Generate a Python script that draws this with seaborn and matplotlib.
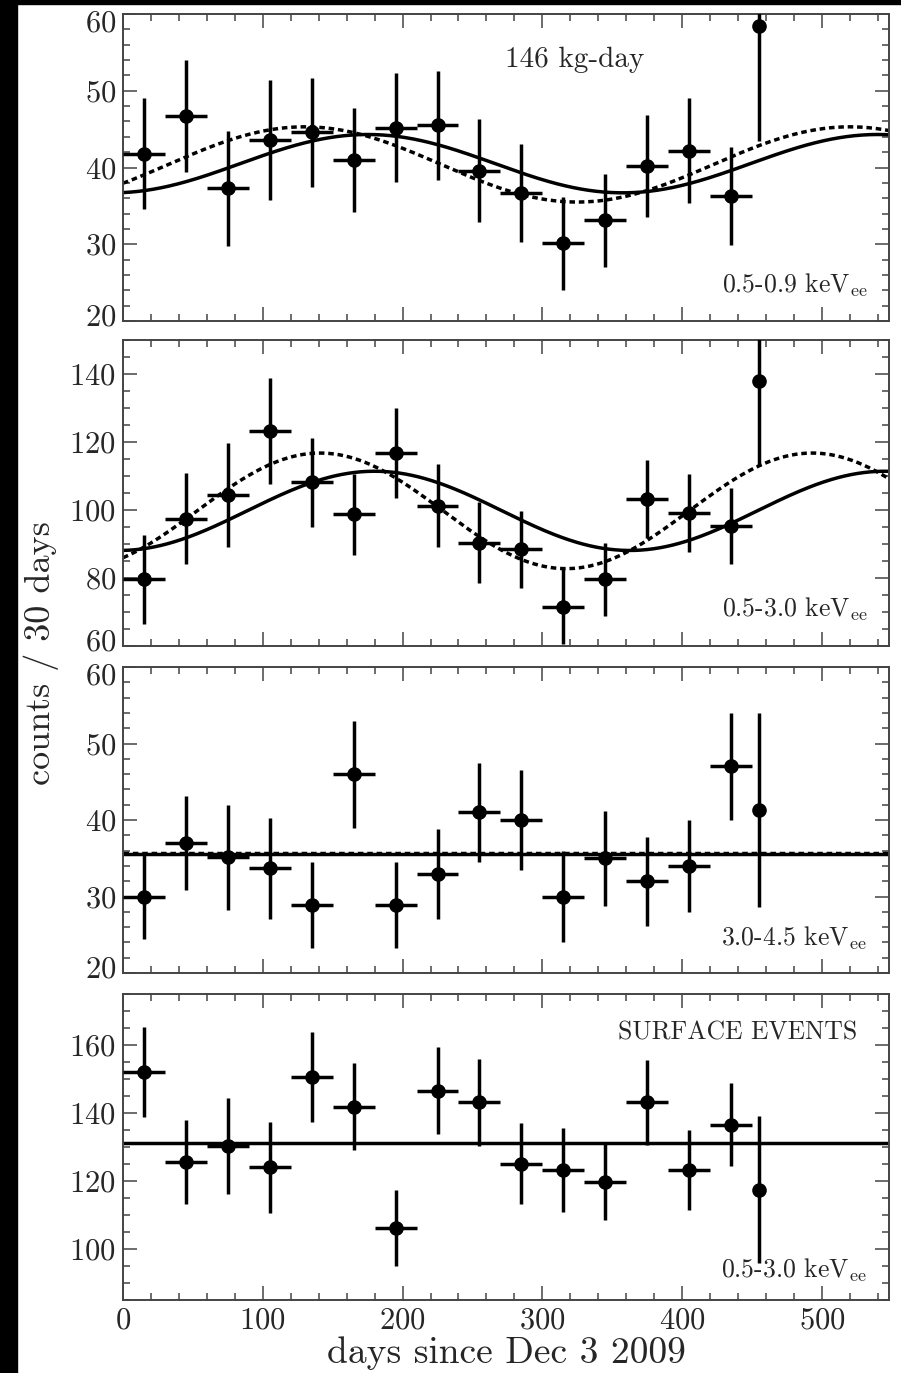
import numpy as np
import pandas as pd
import matplotlib
matplotlib.use("Agg")
import matplotlib.pyplot as plt
from matplotlib.patches import Rectangle
from matplotlib.ticker import MultipleLocator
from matplotlib.transforms import ScaledTranslation
import seaborn as sns

# ---------------- data ----------------
days = [15, 45, 75, 105, 135, 165, 195, 225, 255, 285, 315, 345, 375, 405, 435, 455]
half_bin = [15, 15, 15, 15, 15, 15, 15, 15, 15, 15, 15, 15, 15, 15, 15, 0]

counts_low = [41.8, 46.7, 37.3, 43.6, 44.6, 41.0, 45.2, 45.5, 39.6, 36.7, 30.1, 33.1, 40.2, 42.2, 36.3, 58.4]
err_low = [7.2, 7.3, 7.5, 7.8, 7.1, 6.8, 7.1, 7.1, 6.7, 6.4, 6.0, 6.1, 6.6, 6.8, 6.4, 15.0]

counts_mid = [79.6, 97.5, 104.4, 123.2, 108.1, 98.7, 116.8, 101.3, 90.4, 88.4, 71.6, 79.6, 103.2, 99.2, 95.3, 138.0]
err_mid = [13.1, 13.4, 15.3, 15.5, 13.2, 11.8, 13.2, 12.3, 11.9, 11.4, 11.1, 10.7, 11.4, 11.5, 11.2, 25.2]

counts_high = [30.0, 37.0, 35.1, 33.7, 28.9, 46.0, 28.9, 32.9, 41.0, 40.0, 30.0, 35.0, 32.0, 34.0, 47.0, 41.3]
err_high = [5.5, 6.2, 6.9, 6.6, 5.6, 7.0, 5.6, 5.9, 6.5, 6.5, 6.0, 6.2, 5.8, 6.0, 7.0, 12.7]

counts_surf = [152.0, 125.6, 130.3, 124.0, 150.6, 141.9, 106.2, 146.6, 143.1, 125.1, 123.2, 119.7, 143.1, 123.2, 136.5, 117.5]
err_surf = [13.3, 12.3, 14.1, 13.4, 13.2, 12.7, 11.2, 12.9, 12.7, 11.9, 12.3, 11.3, 12.4, 11.7, 12.2, 21.6]

# fit models: mean, amplitude, peak day, period
solid_low = [40.5, 3.8, 175, 365]
dotted_low = [40.4, 4.9, 130, 390]
solid_mid = [99.75, 11.65, 180, 365]
dotted_mid = [99.75, 17.0, 141, 352]
solid_high = [35.6, 0.0, 180, 365]
dotted_high = [35.75, 0.0, 180, 365]
solid_surf = [131.3, 0.0, 180, 365]

panel_labels = ["0.5-0.9 keV$_{\\rm ee}$", "0.5-3.0 keV$_{\\rm ee}$",
                "3.0-4.5 keV$_{\\rm ee}$", "0.5-3.0 keV$_{\\rm ee}$"]
ylims = [(20, 60), (60, 150), (20, 60), (85, 175)]
yminor = [2, 5, 2, 5]
yticks_list = [[20, 30, 40, 50, 60], [60, 80, 100, 120, 140],
               [20, 30, 40, 50, 60], [100, 120, 140, 160]]
xticks = [0, 100, 200, 300, 400, 500]

# ---------------- style ----------------
sns.set_theme(style="ticks")
plt.rcParams["font.family"] = ["cmr10", "DejaVu Serif"]
plt.rcParams["mathtext.fontset"] = "cm"
plt.rcParams["axes.formatter.use_mathtext"] = True
plt.rcParams["axes.unicode_minus"] = False

W, H = 901, 1373
fig = plt.figure(figsize=(W / 100, H / 100), dpi=100, facecolor="white")

left = 123 / W
width = (889 - 123) / W
tops = [14, 340, 667, 994]
bottoms = [321, 646, 973, 1300]

series = [
    (counts_low, err_low, [solid_low, dotted_low]),
    (counts_mid, err_mid, [solid_mid, dotted_mid]),
    (counts_high, err_high, [solid_high, dotted_high]),
    (counts_surf, err_surf, [solid_surf]),
]

t = np.linspace(0, 548, 600)
spine_col = "#444444"

axes = []
for i, (vals, errs, models) in enumerate(series):
    y0 = 1 - bottoms[i] / H
    h = (bottoms[i] - tops[i]) / H
    ax = fig.add_axes([left, y0, width, h])
    axes.append(ax)
    for j, m in enumerate(models):
        mean, amp, peak, per = m
        curve = pd.DataFrame({"t": t, "y": mean + amp * np.cos(2 * np.pi * (t - peak) / per)})
        ls = "-" if j == 0 else (0, (1.6, 1.1))
        sns.lineplot(data=curve, x="t", y="y", ax=ax, color="black", lw=2.5,
                     linestyle=ls, zorder=2)
    ax.errorbar(days, vals, yerr=errs, xerr=half_bin, fmt="o", color="black",
                ms=9.5, elinewidth=2.5, capsize=0, zorder=3, clip_on=True)
    ax.set_xlim(0, 548)
    ax.set_ylim(*ylims[i])
    ax.set_yticks(yticks_list[i])
    ax.yaxis.set_minor_locator(MultipleLocator(yminor[i]))
    ax.set_xticks(xticks)
    ax.xaxis.set_minor_locator(MultipleLocator(20))
    ax.tick_params(which="both", direction="in", top=True, right=True,
                   color=spine_col, labelsize=22, pad=5)
    ax.tick_params(which="major", length=10, width=1.1)
    ax.tick_params(which="minor", length=5, width=1.1)
    ax.tick_params(axis="y", labelright=False)
    if i < 3:
        ax.tick_params(axis="x", labelbottom=False)
    ax.set_xlabel("")
    ax.set_ylabel("")
    for s in ax.spines.values():
        s.set_color(spine_col)
        s.set_linewidth(1.4)
    ax.set_facecolor("white")
    # nudge edge tick labels inside the panel height, as in the reference
    lo, hi = ylims[i]
    for tk, val in zip(ax.yaxis.get_major_ticks(), yticks_list[i]):
        if val == hi:
            dy = -7 / 72
        elif val == lo:
            dy = 6 / 72
        else:
            continue
        tk.label1.set_transform(tk.label1.get_transform() +
                                ScaledTranslation(0, dy * 0.72 * 100 / 72 * 72 / 100, fig.dpi_scale_trans))

# panel texts
axes[0].text(0.59, 0.827, "146 kg-day", transform=axes[0].transAxes,
             ha="center", va="baseline", fontsize=21)
label_y = [0.091, 0.095, 0.088, 0.072]
label_x = [0.9726, 0.9726, 0.971, 0.971]
for i, ax in enumerate(axes):
    ax.text(label_x[i], label_y[i], panel_labels[i], transform=ax.transAxes,
            ha="right", va="baseline", fontsize=18.5)
axes[3].text(0.9586, 0.852, "SURFACE EVENTS", transform=axes[3].transAxes,
             ha="right", va="baseline", fontsize=18.5)

fig.text(0.5616, 1 - 1363 / H, "days since Dec 3 2009", ha="center",
         va="baseline", fontsize=27)
fig.text(41 / W, 1 - 653 / H, "counts / 30 days", ha="center", va="center",
         rotation=90, fontsize=26)

# black borders of the scan
fig.add_artist(Rectangle((0, 0), 17 / W, 1, transform=fig.transFigure,
                         color="black", zorder=10))
fig.add_artist(Rectangle((0, 1 - 3.5 / H), 1, 3.5 / H, transform=fig.transFigure,
                         color="black", zorder=10))

fig.savefig("out.png", dpi=100, facecolor="white")
